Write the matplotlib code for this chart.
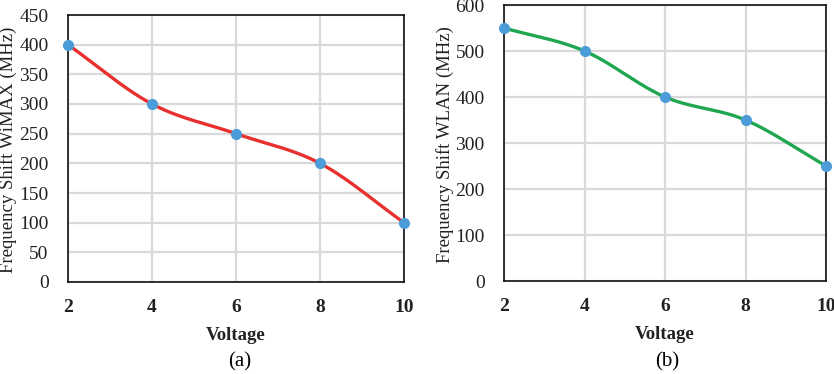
import numpy as np
import matplotlib.pyplot as plt

voltage = [2, 4, 6, 8, 10]
wimax_shift = [400, 300, 250, 200, 100]
wlan_shift = [550, 500, 400, 350, 250]

line_a = '#E8302E'
line_b = '#1FA64F'
marker_col = '#4B9CD8'
grid_col = '#D9D9D9'

plt.rcParams['font.family'] = ['Liberation Serif', 'DejaVu Serif']


def smooth(x, y, n=40):
    # catmull-rom style curve through the points (like excel smoothed lines)
    x = np.asarray(x, float)
    y = np.asarray(y, float)
    px = np.concatenate([[2 * x[0] - x[1]], x, [2 * x[-1] - x[-2]]])
    py = np.concatenate([[2 * y[0] - y[1]], y, [2 * y[-1] - y[-2]]])
    xs, ys = [], []
    for i in range(1, len(px) - 2):
        t = np.linspace(0, 1, n)
        for p, out in ((px, xs), (py, ys)):
            p0, p1, p2, p3 = p[i - 1], p[i], p[i + 1], p[i + 2]
            out.append(0.5 * ((2 * p1) + (-p0 + p2) * t
                              + (2 * p0 - 5 * p1 + 4 * p2 - p3) * t ** 2
                              + (-p0 + 3 * p1 - 3 * p2 + p3) * t ** 3))
    return np.concatenate(xs), np.concatenate(ys)


fig = plt.figure(figsize=(8.34, 3.74), dpi=100)
W, H = 834, 374
ax1 = fig.add_axes([68 / W, 1 - 282 / H, (404 - 68) / W, (282 - 15) / H])
ax2 = fig.add_axes([504 / W, 1 - 281 / H, (826 - 504) / W, (281 - 5) / H])

panels = [
    (ax1, wimax_shift, line_a, 450, 50, 'Frequency Shift WiMAX (MHz)', -0.179),
    (ax2, wlan_shift, line_b, 600, 100, 'Frequency Shift WLAN (MHz)', -0.183),
]

for ax, vals, col, ymax, step, ylab, lx in panels:
    sx, sy = smooth(voltage, vals)
    ax.plot(sx, sy, color=col, lw=2.4, zorder=3, clip_on=False)
    ax.plot(voltage, vals, 'o', color=marker_col, ms=7, zorder=4, clip_on=False)
    ax.set_xlim(2, 10)
    ax.set_ylim(0, ymax)
    ax.set_xticks(voltage)
    ax.set_yticks(np.arange(0, ymax + 1, step))
    ax.grid(True, color=grid_col, lw=1.6)
    ax.set_axisbelow(True)
    ax.tick_params(length=0, labelsize=14, colors='#222222')
    ax.tick_params(axis='x', pad=12)
    ax.tick_params(axis='y', pad=14)
    for lab in ax.get_xticklabels():
        lab.set_fontweight('bold')
    for s in ax.spines.values():
        s.set_color('#111111')
        s.set_linewidth(1.2)
    ax.set_xlabel('Voltage', fontsize=13.5, fontweight='bold', color='#222222', labelpad=8)
    ax.set_ylabel(ylab, fontsize=13.5, color='#222222', va='center')
    ax.yaxis.set_label_coords(lx, 0.495)

fig.text(240 / W, 1 - 362 / H, '(a)', ha='center', va='center', fontsize=15)
fig.text(667 / W, 1 - 362 / H, '(b)', ha='center', va='center', fontsize=15)

fig.savefig('out.png', dpi=100)
